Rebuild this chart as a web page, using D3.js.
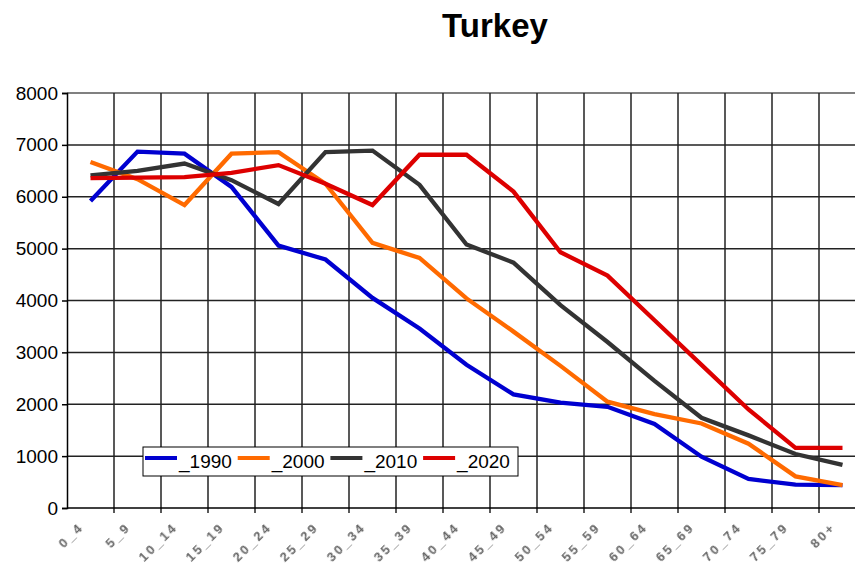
<!DOCTYPE html>
<html>
<head>
<meta charset="utf-8">
<script src="https://cdn.jsdelivr.net/npm/d3@7"></script>
<style>
  html, body { margin: 0; padding: 0; background: #fff; overflow: hidden; }
  svg { display: block; }
  text { font-family: "Liberation Sans", Arial, sans-serif; }
</style>
</head>
<body>
<svg id="chart" width="855" height="572"></svg>
<script>
const categories = ["0_4","5_9","10_14","15_19","20_24","25_29","30_34","35_39","40_44","45_49","50_54","55_59","60_64","65_69","70_74","75_79","80+"];
const seriesNames = ["_1990","_2000","_2010","_2020"];
const s1990 = [5920,6870,6830,6190,5060,4790,4050,3460,2760,2190,2030,1950,1620,990,560,450,440];
const s2000 = [6670,6340,5840,6830,6860,6250,5110,4820,4040,3400,2740,2050,1810,1630,1240,610,440];
const s2010 = [6410,6500,6640,6320,5860,6860,6890,6230,5080,4730,3910,3200,2450,1740,1400,1040,830];
const s2020 = [6360,6370,6380,6460,6610,6250,5840,6810,6810,6100,4930,4480,3620,2760,1900,1160,1160];
const yTicks = [0,1000,2000,3000,4000,5000,6000,7000,8000];
const colors = ["#0000d0","#ff6a00","#333333","#dd0000"];

const allSeries = [s1990, s2000, s2010, s2020];

const svg = d3.select("#chart");
const mLeft = 67, mTop = 93, mBottom = 508, bandW = 47;
const mRight = mLeft + bandW * categories.length;

const x = d3.scaleBand().domain(categories).range([mLeft, mRight]).padding(0);
const y = d3.scaleLinear().domain([0, 8000]).range([mBottom, mTop]);

// Title
svg.append("text")
  .attr("x", 495).attr("y", 37)
  .attr("text-anchor", "middle")
  .attr("font-size", 33).attr("font-weight", "bold")
  .attr("fill", "#000")
  .text("Turkey");

// Horizontal gridlines
svg.append("g").selectAll("line").data(yTicks.filter(d => d > 0)).join("line")
  .attr("x1", mLeft).attr("x2", mRight)
  .attr("y1", d => y(d)).attr("y2", d => y(d))
  .attr("stroke", d => d === 8000 ? "#808080" : "#222")
  .attr("stroke-width", d => d === 8000 ? 2 : 1.5);

// Vertical gridlines at band boundaries
const bounds = categories.slice(1).map(c => x(c));
svg.append("g").selectAll("line").data(bounds).join("line")
  .attr("x1", d => d).attr("x2", d => d)
  .attr("y1", mTop).attr("y2", mBottom + 5)
  .attr("stroke", "#222").attr("stroke-width", 1.5);

// Y axis
const yAxis = d3.axisLeft(y).tickValues(yTicks).tickSize(5).tickFormat(d3.format("d"));
const gy = svg.append("g").attr("transform", `translate(${mLeft},0)`).call(yAxis);
gy.select(".domain").attr("stroke", "#000").attr("stroke-width", 1.5);
gy.selectAll(".tick line").attr("stroke", "#000").attr("stroke-width", 1.5);
gy.selectAll(".tick text")
  .attr("x", -9)
  .attr("font-size", 19)
  .attr("font-family", "Liberation Sans, Arial, sans-serif")
  .attr("fill", "#000");

// X axis baseline
svg.append("line")
  .attr("x1", mLeft).attr("x2", mRight)
  .attr("y1", mBottom).attr("y2", mBottom)
  .attr("stroke", "#000").attr("stroke-width", 1.5);

// X labels
svg.append("defs").append("filter").attr("id", "soft")
  .append("feGaussianBlur").attr("stdDeviation", 0.5);
svg.append("g").selectAll("text").data(categories).join("text")
  .attr("transform", d => `translate(${x(d) + x.bandwidth() / 2 - 6},${mBottom + 20}) rotate(-45)`)
  .attr("text-anchor", "end")
  .attr("font-size", 13)
  .attr("font-weight", "bold")
  .attr("letter-spacing", 2.5)
  .attr("fill", "#666")
  .attr("filter", "url(#soft)")
  .text(d => d);

// Lines
const line = d3.line()
  .x((d, i) => x(categories[i]) + x.bandwidth() / 2)
  .y(d => y(d));
svg.append("g").selectAll("path").data(allSeries).join("path")
  .attr("d", d => line(d))
  .attr("fill", "none")
  .attr("stroke", (d, i) => colors[i])
  .attr("stroke-width", 4.3)
  .attr("stroke-linejoin", "miter")
  .attr("stroke-linecap", "butt");

// Legend
const lg = svg.append("g");
lg.append("rect")
  .attr("x", 143).attr("y", 447).attr("width", 375).attr("height", 29)
  .attr("fill", "#fff").attr("stroke", "#000").attr("stroke-width", 1);
seriesNames.forEach((name, i) => {
  const x0 = 145 + i * 92.7;
  lg.append("line")
    .attr("x1", x0).attr("x2", x0 + 32)
    .attr("y1", 458).attr("y2", 458)
    .attr("stroke", colors[i]).attr("stroke-width", 4);
  lg.append("text")
    .attr("x", x0 + 34).attr("y", 468)
    .attr("font-size", 19).attr("fill", "#000")
    .text(name);
});
</script>
</body>
</html>
